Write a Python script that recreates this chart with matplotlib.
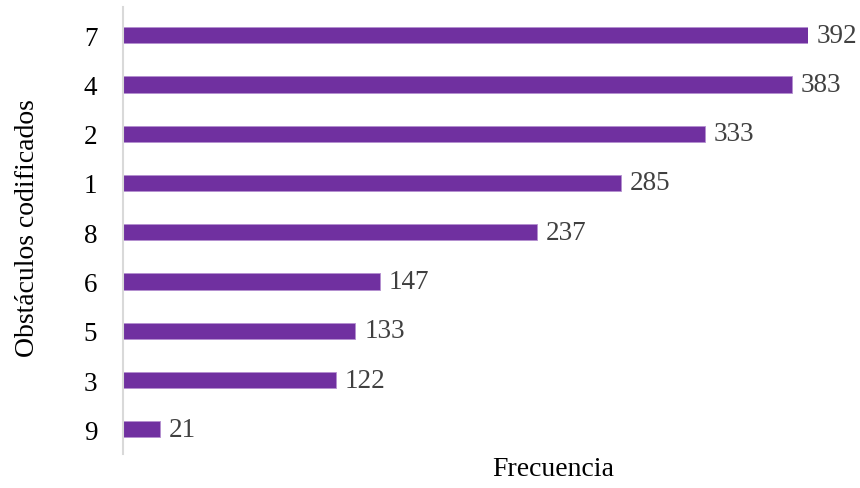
import matplotlib.pyplot as plt

# Coded obstacles and their frequencies (bottom to top)
categories = ["9", "3", "5", "6", "8", "1", "2", "4", "7"]
frequencies = [21, 122, 133, 147, 237, 285, 333, 383, 392]

plt.rcParams["font.family"] = ["Liberation Serif", "DejaVu Serif"]

fig = plt.figure(figsize=(8.6, 4.89), dpi=100)
ax = fig.add_axes([123 / 860, 1 - 455 / 489, (808 - 123) / 860, (455 - 8) / 489])

pos = list(range(len(categories)))
ax.barh(pos, frequencies, height=0.33, color="#7030A0",
        edgecolor="#b48fd0", linewidth=0.6)

for y, v in zip(pos, frequencies):
    ax.text(v + 5, y, str(v), va="center", ha="left", fontsize=19.5,
            color="#404040", clip_on=False)

ax.set_xlim(0, 392)
ax.set_ylim(-0.5, 8.57)
ax.set_yticks(pos)
ax.set_yticklabels(categories, fontsize=19.5)
ax.set_xticks([])
ax.tick_params(axis="y", length=0, pad=18.5)

for side in ["top", "right", "bottom"]:
    ax.spines[side].set_visible(False)
ax.spines["left"].set_color("#d9d9d9")
ax.spines["left"].set_linewidth(1.5)

fig.text(553 / 860, 1 - 470 / 489, "Frecuencia", ha="center", va="center",
         fontsize=20)
fig.text(28 / 860, 1 - 228 / 489, "Obstáculos codificados", ha="center",
         va="center", rotation=90, fontsize=20)

fig.savefig("out.png", dpi=100)
